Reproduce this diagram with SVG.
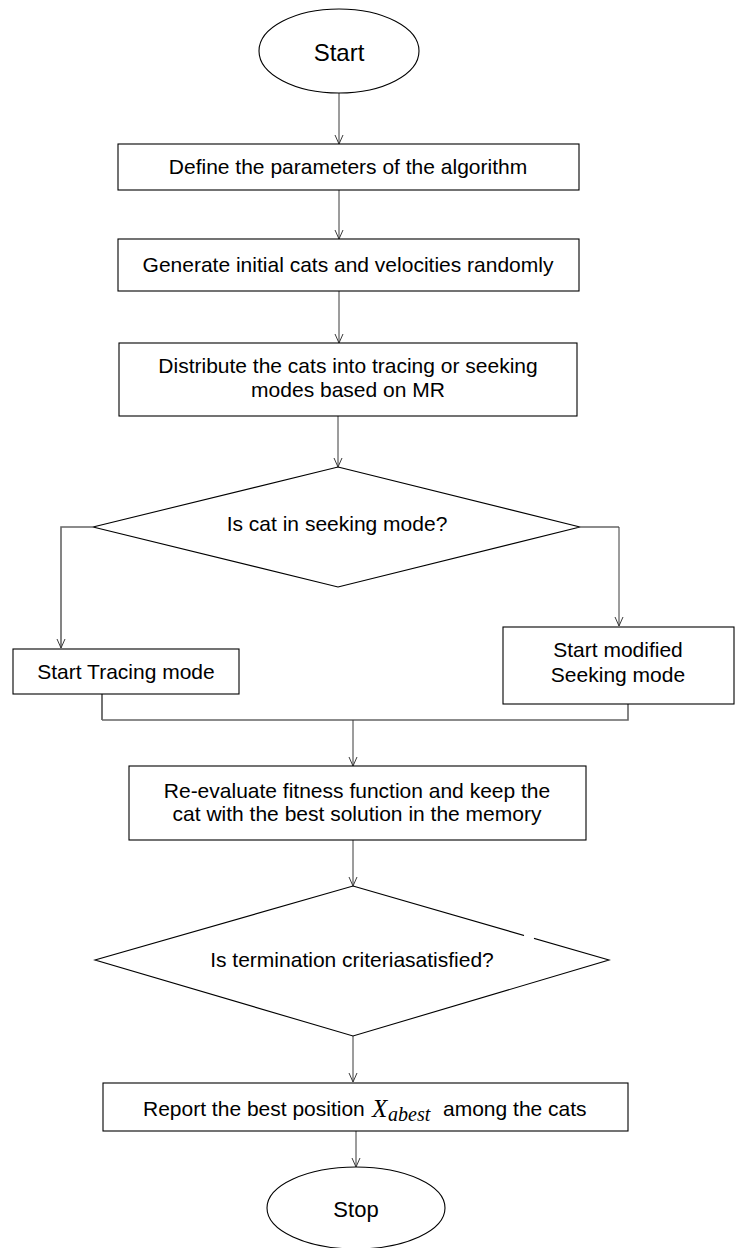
<svg xmlns="http://www.w3.org/2000/svg" width="739" height="1248" viewBox="0 0 739 1248">
<style>
.shape{fill:#fff;stroke:#000;stroke-width:1.1}
.conn{fill:none;stroke:#3a3a3a;stroke-width:1}
.join{fill:none;stroke:#666;stroke-width:1.6}
.t{font-family:"Liberation Sans",Arial,sans-serif;font-size:21px;fill:#000;text-anchor:middle}
.m{font-family:"Liberation Serif","Times New Roman",serif;font-style:italic;fill:#000}
</style>
<defs>
<marker id="arr" markerWidth="12" markerHeight="12" refX="9" refY="4.5" orient="auto" markerUnits="userSpaceOnUse">
<path d="M0,0.5 L9,4.5 L0,8.5" fill="none" stroke="#3a3a3a" stroke-width="1"/>
</marker>
</defs>
<rect width="739" height="1248" fill="#fff"/>

<g id="connectors">
<line class="conn" x1="339" y1="93" x2="339" y2="144" marker-end="url(#arr)"/>
<line class="conn" x1="339" y1="190" x2="339" y2="239" marker-end="url(#arr)"/>
<line class="conn" x1="339" y1="291" x2="339" y2="343" marker-end="url(#arr)"/>
<line class="conn" x1="338" y1="416" x2="338" y2="467" marker-end="url(#arr)"/>
<polyline class="join" points="93,527 61,527 61,648" marker-end="url(#arr)"/>
<polyline class="join" points="580,527 619,527"/>
<line class="conn" x1="619" y1="527" x2="619" y2="626" marker-end="url(#arr)"/>
<line x1="102" y1="694" x2="102" y2="720" stroke="#000" stroke-width="1.1"/>
<polyline class="join" points="102,720 628,720 628,704"/>
<line class="conn" x1="353" y1="720" x2="353" y2="766" marker-end="url(#arr)"/>
<line class="conn" x1="353" y1="840" x2="353" y2="886" marker-end="url(#arr)"/>
<line class="conn" x1="353" y1="1036" x2="353" y2="1082" marker-end="url(#arr)"/>
<line class="conn" x1="356" y1="1131" x2="356" y2="1167" marker-end="url(#arr)"/>
</g>

<g id="start">
<ellipse class="shape" cx="339" cy="51" rx="80" ry="42"/>
<text class="t" x="339" y="61" style="font-size:24px">Start</text>
</g>

<g id="define">
<rect class="shape" x="118" y="144" width="461" height="46"/>
<text class="t" x="348" y="174">Define the parameters of the algorithm</text>
</g>

<g id="generate">
<rect class="shape" x="118" y="239" width="461" height="52"/>
<text class="t" x="348" y="272">Generate initial cats and velocities randomly</text>
</g>

<g id="distribute">
<rect class="shape" x="119" y="343" width="458" height="73"/>
<text class="t" x="348" y="373">Distribute the cats into tracing or seeking</text>
<text class="t" x="348" y="397">modes based on MR</text>
</g>

<g id="seeking-decision">
<polygon class="shape" points="338,467 580,527 338,587 93,527"/>
<text class="t" x="337" y="531">Is cat in seeking mode?</text>
</g>

<g id="tracing">
<rect class="shape" x="13" y="649" width="226" height="45"/>
<text class="t" x="126" y="679">Start Tracing mode</text>
</g>

<g id="seeking">
<rect class="shape" x="503" y="627" width="231" height="77"/>
<text class="t" x="618" y="657">Start modified</text>
<text class="t" x="618" y="682">Seeking mode</text>
</g>

<g id="reevaluate">
<rect class="shape" x="129" y="766" width="457" height="74"/>
<text class="t" x="357" y="798">Re-evaluate fitness function and keep the</text>
<text class="t" x="357" y="821">cat with the best solution in the memory</text>
</g>

<g id="termination-decision">
<polygon class="shape" points="353,886 609,960 353,1036 95,960" />
<line x1="524" y1="935.5" x2="534" y2="938.4" stroke="#fff" stroke-width="3"/>
<text class="t" x="352" y="967">Is termination criteriasatisfied?</text>
</g>

<g id="report">
<rect class="shape" x="103" y="1083" width="525" height="48"/>
<text class="t" style="text-anchor:start" x="143" y="1116">Report the best position </text>
<text class="m" x="372" y="1117" style="font-size:25px">X</text>
<text class="m" x="388" y="1121" style="font-size:20px">abest</text>
<text class="t" style="text-anchor:start" x="443" y="1116">among the cats</text>
</g>

<g id="stop">
<ellipse class="shape" cx="356" cy="1208" rx="89" ry="41"/>
<text class="t" x="356" y="1217" style="font-size:22px">Stop</text>
</g>
</svg>
